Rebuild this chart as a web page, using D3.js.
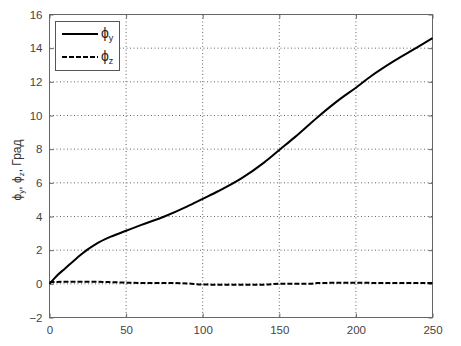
<!DOCTYPE html>
<html><head><meta charset="utf-8">
<script src="https://cdn.jsdelivr.net/npm/d3@7"></script>
<style>body{margin:0;background:#fff}svg{display:block}text{font-family:"Liberation Sans",Arial,sans-serif}</style>
</head><body>
<svg id="c" width="461" height="346"></svg>
<script>
const tX = [0,5,10,15,20,25,30,40,50,60,75,90,100,110,125,140,150,160,175,190,200,210,225,240,250];
const phiY = [0,0.5,0.9,1.3,1.7,2.05,2.35,2.8,3.15,3.5,4.0,4.6,5.05,5.5,6.25,7.2,7.95,8.7,9.9,11.0,11.65,12.35,13.25,14.05,14.6];
const zX = [0,10,20,30,40,50,60,75,90,100,110,125,140,150,160,170,175,190,200,225,250];
const phiZ = [0.1,0.12,0.12,0.12,0.1,0.07,0.05,0.05,0.02,-0.04,-0.05,-0.05,-0.05,0.0,0.0,0.0,0.05,0.06,0.06,0.05,0.05];
const xTicks = [0,50,100,150,200,250];
const yTicks = [-2,0,2,4,6,8,10,12,14,16];

const svg = d3.select("#c");
const L=49.5, R=432.5, T=14.5, B=317.5;
const x = d3.scaleLinear().domain([0,250]).range([L,R]);
const y = d3.scaleLinear().domain([-2,16]).range([B,T]);
const g = svg.append("g");

g.selectAll(".gx").data(xTicks.slice(1,-1)).enter().append("line")
 .attr("x1",d=>x(d)).attr("x2",d=>x(d)).attr("y1",T).attr("y2",B)
 .attr("stroke","#666").attr("stroke-width",1).attr("stroke-dasharray","1,2.5");
g.selectAll(".gy").data(yTicks.slice(1,-1)).enter().append("line")
 .attr("y1",d=>y(d)).attr("y2",d=>y(d)).attr("x1",L).attr("x2",R)
 .attr("stroke","#666").attr("stroke-width",1).attr("stroke-dasharray","1,2.5");

g.append("rect").attr("x",L).attr("y",T).attr("width",R-L).attr("height",B-T)
 .attr("fill","none").attr("stroke","#666").attr("stroke-width",1);

const ax = d3.axisBottom(x).tickValues(xTicks).tickSize(-4).tickPadding(8);
const ay = d3.axisLeft(y).tickValues(yTicks).tickSize(-4).tickPadding(7);
const gx = svg.append("g").attr("transform",`translate(0,${B})`).call(ax);
const gy = svg.append("g").attr("transform",`translate(${L},0)`).call(ay);
const ax2 = d3.axisTop(x).tickValues(xTicks).tickSize(-4).tickFormat("");
const ay2 = d3.axisRight(y).tickValues(yTicks).tickSize(-4).tickFormat("");
const gx2 = svg.append("g").attr("transform",`translate(0,${T})`).call(ax2);
const gy2 = svg.append("g").attr("transform",`translate(${R},0)`).call(ay2);
[gx,gy,gx2,gy2].forEach(a=>{
  a.select(".domain").remove();
  a.selectAll("line").attr("stroke","#666");
  a.selectAll("text").attr("font-size",11.5).attr("fill","#444");
});

const line = d3.line().curve(d3.curveMonotoneX);
svg.append("path").datum(tX.map((d,i)=>[x(d),y(phiY[i])]))
 .attr("d",line).attr("fill","none").attr("stroke","#000").attr("stroke-width",2);
svg.append("path").datum(zX.map((d,i)=>[x(d),y(phiZ[i])]))
 .attr("d",line).attr("fill","none").attr("stroke","#000").attr("stroke-width",2).attr("stroke-dasharray","5,2");

const lg = svg.append("g");
lg.append("rect").attr("x",55.5).attr("y",21.5).attr("width",64).attr("height",49)
 .attr("fill","#fff").attr("stroke","#555");
lg.append("line").attr("x1",62).attr("x2",98).attr("y1",34).attr("y2",34).attr("stroke","#000").attr("stroke-width",2);
lg.append("line").attr("x1",62).attr("x2",98).attr("y1",57).attr("y2",57).attr("stroke","#000").attr("stroke-width",2).attr("stroke-dasharray","5,2");
const t1 = lg.append("text").attr("x",101).attr("y",38).attr("font-size",14).attr("fill","#222");
t1.append("tspan").text("ϕ");
t1.append("tspan").attr("font-size",9).attr("dy",3).text("y");
const t2 = lg.append("text").attr("x",101).attr("y",61).attr("font-size",14).attr("fill","#222");
t2.append("tspan").text("ϕ");
t2.append("tspan").attr("font-size",9).attr("dy",3).text("z");

const yl = svg.append("text").attr("transform","translate(21,170) rotate(-90)")
 .attr("text-anchor","middle").attr("font-size",12).attr("fill","#333");
yl.append("tspan").text("ϕ");
yl.append("tspan").attr("font-size",8).attr("dy",3).text("y");
yl.append("tspan").attr("dy",-3).text(",  ϕ");
yl.append("tspan").attr("font-size",8).attr("dy",3).text("z");
yl.append("tspan").attr("dy",-3).text(",  Град");
</script>
</body></html>
